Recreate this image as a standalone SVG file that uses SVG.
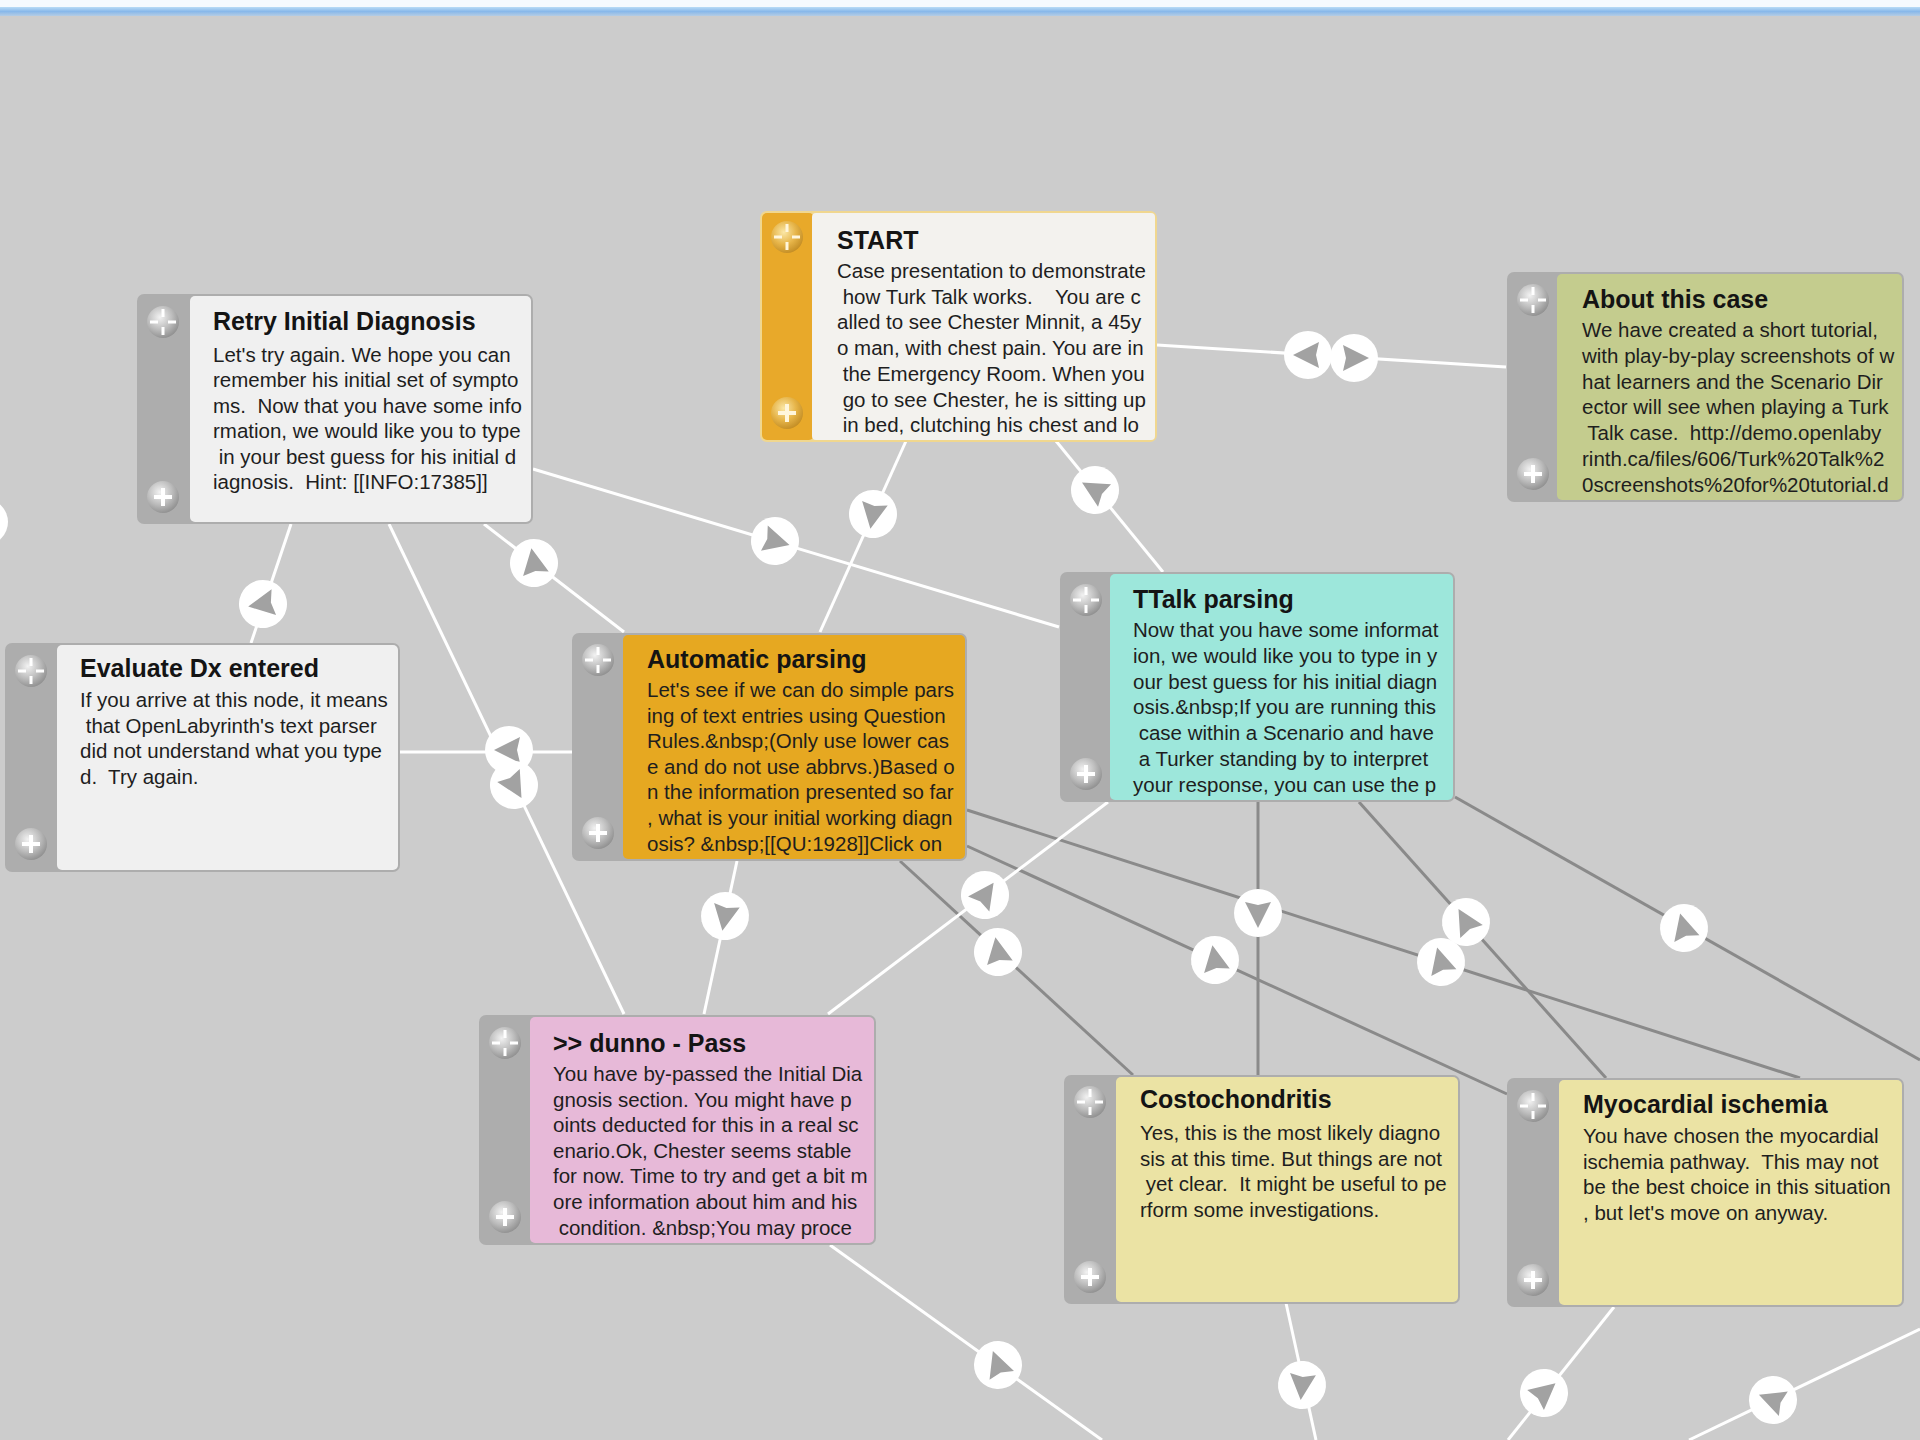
<svg xmlns="http://www.w3.org/2000/svg" width="1920" height="1440" viewBox="0 0 1920 1440">
<defs>
<style>
.side{fill:#adadad}
.title{font-family:"Liberation Sans",Arial,sans-serif;font-size:25px;font-weight:bold;fill:#141414}
.body{font-family:"Liberation Sans",Arial,sans-serif;font-size:20.5px;fill:#1e1e1e;white-space:pre}
.wl{stroke:#ffffff;stroke-width:3;fill:none}
.gl{stroke:#8a8a8a;stroke-width:3;fill:none}
</style>
<linearGradient id="topbar" x1="0" y1="0" x2="0" y2="1">
<stop offset="0" stop-color="#b9dcf6"/>
<stop offset="0.5" stop-color="#88b8ea"/>
<stop offset="1" stop-color="#b4cce4"/>
</linearGradient>
<radialGradient id="sph" cx="0.4" cy="0.35" r="0.7">
<stop offset="0" stop-color="#f2f2f2"/>
<stop offset="0.55" stop-color="#bdbdbd"/>
<stop offset="1" stop-color="#8c8c8c"/>
</radialGradient>
<radialGradient id="sphg" cx="0.4" cy="0.35" r="0.7">
<stop offset="0" stop-color="#fbe7a6"/>
<stop offset="0.55" stop-color="#e6b448"/>
<stop offset="1" stop-color="#c08a22"/>
</radialGradient>
<g id="cross"><circle r="16" fill="url(#sph)"/><path d="M0,-13 V-5 M0,5 V13 M-13,0 H-5 M5,0 H13" stroke="#fff" stroke-width="3"/></g>
<g id="plus"><circle r="16" fill="url(#sph)"/><path d="M0,-9 V9 M-9,0 H9" stroke="#fff" stroke-width="4"/></g>
<g id="crossg"><circle r="16" fill="url(#sphg)"/><path d="M0,-13 V-5 M0,5 V13 M-13,0 H-5 M5,0 H13" stroke="#fff6dc" stroke-width="3"/></g>
<g id="plusg"><circle r="16" fill="url(#sphg)"/><path d="M0,-9 V9 M-9,0 H9" stroke="#fff6dc" stroke-width="4"/></g>
<g id="arr"><circle r="24" fill="#ffffff"/><path d="M15,0 L-11,-13 L-8,0 L-11,13 Z" fill="#a2a2a2"/></g>
</defs>

<rect x="0" y="0" width="1920" height="1440" fill="#cccccc"/>
<rect x="0" y="0" width="1920" height="8" fill="#f5fafe"/>
<rect x="0" y="7" width="1920" height="9" fill="url(#topbar)"/>

<g id="connectors">
<path class="gl" d="M900,861 L1133,1075"/>
<path class="gl" d="M967,846 L1507,1094"/>
<path class="gl" d="M967,810 L1800,1078"/>
<path class="gl" d="M1258,802 L1258,1075"/>
<path class="gl" d="M1359,802 L1606,1078"/>
<path class="gl" d="M1455,797 L1920,1060"/>
<path class="wl" d="M1157,345 L1506,367"/>
<path class="wl" d="M533,469 L1059,627"/>
<path class="wl" d="M906,441 L820,632"/>
<path class="wl" d="M1056,441 L1163,572"/>
<path class="wl" d="M291,524 L251,643"/>
<path class="wl" d="M484,524 L624,632"/>
<path class="wl" d="M389,524 L624,1014"/>
<path class="wl" d="M400,752 L572,752"/>
<path class="wl" d="M737,861 L704,1014"/>
<path class="wl" d="M1108,802 L828,1014"/>
<path class="wl" d="M830,1245 L1102,1440"/>
<path class="wl" d="M1286,1303 L1316,1440"/>
<path class="wl" d="M1614,1307 L1508,1440"/>
<path class="wl" d="M1920,1329 L1689,1440"/>
<circle cx="-15" cy="522" r="23" fill="#ffffff"/>
<use href="#arr" transform="translate(1308,355) rotate(180)"/>
<use href="#arr" transform="translate(1354,358) rotate(0)"/>
<use href="#arr" transform="translate(775,541) rotate(15)"/>
<use href="#arr" transform="translate(873,514) rotate(100)"/>
<use href="#arr" transform="translate(1095,490) rotate(-150)"/>
<use href="#arr" transform="translate(263,604) rotate(170)"/>
<use href="#arr" transform="translate(534,563) rotate(-100)"/>
<use href="#arr" transform="translate(509,750) rotate(180)"/>
<use href="#arr" transform="translate(514,785) rotate(60)"/>
<use href="#arr" transform="translate(725,916) rotate(100)"/>
<use href="#arr" transform="translate(985,895) rotate(-55)"/>
<use href="#arr" transform="translate(998,952) rotate(-100)"/>
<use href="#arr" transform="translate(1215,960) rotate(-100)"/>
<use href="#arr" transform="translate(1258,913) rotate(90)"/>
<use href="#arr" transform="translate(1466,922) rotate(-120)"/>
<use href="#arr" transform="translate(1441,962) rotate(-105)"/>
<use href="#arr" transform="translate(1684,928) rotate(-105)"/>
<use href="#arr" transform="translate(998,1365) rotate(-110)"/>
<use href="#arr" transform="translate(1302,1385) rotate(95)"/>
<use href="#arr" transform="translate(1544,1393) rotate(-40)"/>
<use href="#arr" transform="translate(1773,1400) rotate(-160)"/>
</g>

<g id="node-retry">
<rect class="side" x="137" y="294" width="396" height="230" rx="7"/>
<rect x="190" y="296" width="341" height="226" rx="5" fill="#f0f0f0"/>
<use href="#cross" x="163" y="322"/>
<use href="#plus" x="163" y="497"/>
<text class="title" x="213" y="330">Retry Initial Diagnosis</text>
<text class="body" xml:space="preserve" x="213" y="362"><tspan x="213">Let's try again. We hope you can</tspan><tspan x="213" dy="25.4">remember his initial set of sympto</tspan><tspan x="213" dy="25.4">ms.  Now that you have some info</tspan><tspan x="213" dy="25.4">rmation, we would like you to type</tspan><tspan x="213" dy="25.4"> in your best guess for his initial d</tspan><tspan x="213" dy="25.4">iagnosis.  Hint: [[INFO:17385]]</tspan></text>
</g>

<g id="node-start">
<rect x="760" y="211" width="397" height="231" rx="7" fill="#f0d78f"/>
<rect x="762" y="213" width="52" height="227" rx="5" fill="#e8a92a"/>
<rect x="812" y="213" width="343" height="227" rx="4" fill="#f3f2ee"/>
<use href="#crossg" x="787" y="237"/>
<use href="#plusg" x="787" y="413"/>
<text class="title" x="837" y="249">START</text>
<text class="body" xml:space="preserve" x="837" y="278"><tspan x="837">Case presentation to demonstrate</tspan><tspan x="837" dy="25.7"> how Turk Talk works.    You are c</tspan><tspan x="837" dy="25.7">alled to see Chester Minnit, a 45y</tspan><tspan x="837" dy="25.7">o man, with chest pain. You are in</tspan><tspan x="837" dy="25.7"> the Emergency Room. When you</tspan><tspan x="837" dy="25.7"> go to see Chester, he is sitting up</tspan><tspan x="837" dy="25.7"> in bed, clutching his chest and lo</tspan></text>
</g>

<g id="node-about">
<rect class="side" x="1507" y="272" width="397" height="230" rx="7"/>
<rect x="1557" y="274" width="345" height="226" rx="5" fill="#c4cc8e"/>
<use href="#cross" x="1533" y="300"/>
<use href="#plus" x="1533" y="474"/>
<text class="title" x="1582" y="308">About this case</text>
<text class="body" xml:space="preserve" x="1582" y="337"><tspan x="1582">We have created a short tutorial,</tspan><tspan x="1582" dy="25.8">with play-by-play screenshots of w</tspan><tspan x="1582" dy="25.8">hat learners and the Scenario Dir</tspan><tspan x="1582" dy="25.8">ector will see when playing a Turk</tspan><tspan x="1582" dy="25.8"> Talk case.  http://demo.openlaby</tspan><tspan x="1582" dy="25.8">rinth.ca/files/606/Turk%20Talk%2</tspan><tspan x="1582" dy="25.8">0screenshots%20for%20tutorial.d</tspan></text>
</g>

<g id="node-ttalk">
<rect class="side" x="1060" y="572" width="395" height="230" rx="7"/>
<rect x="1110" y="574" width="343" height="226" rx="5" fill="#9de7db"/>
<use href="#cross" x="1086" y="600"/>
<use href="#plus" x="1086" y="774"/>
<text class="title" x="1133" y="608">TTalk parsing</text>
<text class="body" xml:space="preserve" x="1133" y="637"><tspan x="1133">Now that you have some informat</tspan><tspan x="1133" dy="25.8">ion, we would like you to type in y</tspan><tspan x="1133" dy="25.8">our best guess for his initial diagn</tspan><tspan x="1133" dy="25.8">osis.&amp;nbsp;If you are running this</tspan><tspan x="1133" dy="25.8"> case within a Scenario and have</tspan><tspan x="1133" dy="25.8"> a Turker standing by to interpret</tspan><tspan x="1133" dy="25.8">your response, you can use the p</tspan></text>
</g>

<g id="node-evaluate">
<rect class="side" x="5" y="643" width="395" height="229" rx="7"/>
<rect x="57" y="645" width="341" height="225" rx="5" fill="#f0f0f0"/>
<use href="#cross" x="31" y="671"/>
<use href="#plus" x="31" y="844"/>
<text class="title" x="80" y="677">Evaluate Dx entered</text>
<text class="body" xml:space="preserve" x="80" y="707"><tspan x="80">If you arrive at this node, it means</tspan><tspan x="80" dy="25.6"> that OpenLabyrinth's text parser</tspan><tspan x="80" dy="25.6">did not understand what you type</tspan><tspan x="80" dy="25.6">d.  Try again.</tspan></text>
</g>

<g id="node-auto">
<rect class="side" x="572" y="633" width="395" height="228" rx="7"/>
<rect x="623" y="635" width="342" height="224" rx="5" fill="#e6a821"/>
<use href="#cross" x="598" y="660"/>
<use href="#plus" x="598" y="833"/>
<text class="title" x="647" y="668">Automatic parsing</text>
<text class="body" xml:space="preserve" x="647" y="697"><tspan x="647">Let's see if we can do simple pars</tspan><tspan x="647" dy="25.6">ing of text entries using Question</tspan><tspan x="647" dy="25.6">Rules.&amp;nbsp;(Only use lower cas</tspan><tspan x="647" dy="25.6">e and do not use abbrvs.)Based o</tspan><tspan x="647" dy="25.6">n the information presented so far</tspan><tspan x="647" dy="25.6">, what is your initial working diagn</tspan><tspan x="647" dy="25.6">osis? &amp;nbsp;[[QU:1928]]Click on</tspan></text>
</g>

<g id="node-dunno">
<rect class="side" x="479" y="1015" width="397" height="230" rx="7"/>
<rect x="530" y="1017" width="344" height="226" rx="5" fill="#e7b9d8"/>
<use href="#cross" x="505" y="1043"/>
<use href="#plus" x="505" y="1217"/>
<text class="title" x="553" y="1052">&gt;&gt; dunno - Pass</text>
<text class="body" xml:space="preserve" x="553" y="1081"><tspan x="553">You have by-passed the Initial Dia</tspan><tspan x="553" dy="25.6">gnosis section. You might have p</tspan><tspan x="553" dy="25.6">oints deducted for this in a real sc</tspan><tspan x="553" dy="25.6">enario.Ok, Chester seems stable</tspan><tspan x="553" dy="25.6">for now. Time to try and get a bit m</tspan><tspan x="553" dy="25.6">ore information about him and his</tspan><tspan x="553" dy="25.6"> condition. &amp;nbsp;You may proce</tspan></text>
</g>

<g id="node-costo">
<rect class="side" x="1064" y="1075" width="396" height="229" rx="7"/>
<rect x="1116" y="1077" width="342" height="225" rx="5" fill="#ebe3a4"/>
<use href="#cross" x="1090" y="1102"/>
<use href="#plus" x="1090" y="1277"/>
<text class="title" x="1140" y="1108">Costochondritis</text>
<text class="body" xml:space="preserve" x="1140" y="1140"><tspan x="1140">Yes, this is the most likely diagno</tspan><tspan x="1140" dy="25.6">sis at this time. But things are not</tspan><tspan x="1140" dy="25.6"> yet clear.  It might be useful to pe</tspan><tspan x="1140" dy="25.6">rform some investigations.</tspan></text>
</g>

<g id="node-myo">
<rect class="side" x="1507" y="1078" width="397" height="229" rx="7"/>
<rect x="1559" y="1080" width="343" height="225" rx="5" fill="#ebe3a4"/>
<use href="#cross" x="1533" y="1106"/>
<use href="#plus" x="1533" y="1280"/>
<text class="title" x="1583" y="1113">Myocardial ischemia</text>
<text class="body" xml:space="preserve" x="1583" y="1143"><tspan x="1583">You have chosen the myocardial</tspan><tspan x="1583" dy="25.6">ischemia pathway.  This may not</tspan><tspan x="1583" dy="25.6">be the best choice in this situation</tspan><tspan x="1583" dy="25.6">, but let's move on anyway.</tspan></text>
</g>
</svg>
